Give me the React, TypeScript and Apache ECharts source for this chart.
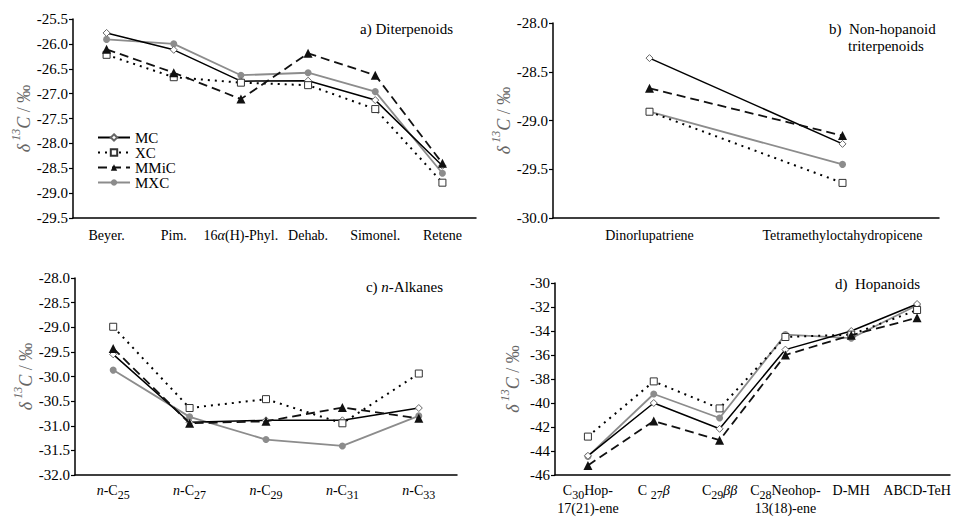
import React, { useEffect, useRef } from 'react';
import * as echarts from 'echarts';

const FONT = 'Liberation Serif';

const catsA = ['Beyer.', 'Pim.', '16α(H)-Phyl.', 'Dehab.', 'Simonel.', 'Retene'];
const catsB = ['Dinorlupatriene', 'Tetramethyloctahydropicene'];
const catsC = ['n-C25', 'n-C27', 'n-C29', 'n-C31', 'n-C33'];
const catsD = ['C30Hop-17(21)-ene', 'C27β', 'C29ββ', 'C28Neohop-13(18)-ene', 'D-MH', 'ABCD-TeH'];

const seriesNames = ['MC', 'XC', 'MMiC', 'MXC'];

const aMC = [-25.78, -26.12, -26.75, -26.74, -27.13, -28.45];
const aXC = [-26.22, -26.67, -26.78, -26.83, -27.31, -28.79];
const aMMiC = [-26.11, -26.58, -27.11, -26.19, -26.63, -28.4];
const aMXC = [-25.91, -26.0, -26.63, -26.58, -26.96, -28.6];

const bMC = [-28.36, -29.24];
const bXC = [-28.91, -29.64];
const bMMiC = [-28.67, -29.155];
const bMXC = [-28.91, -29.45];

const cMC = [-29.55, -30.93, -30.89, -30.89, -30.64];
const cXC = [-28.99, -30.64, -30.46, -30.95, -29.94];
const cMMiC = [-29.43, -30.95, -30.91, -30.63, -30.85];
const cMXC = [-29.87, -30.82, -31.28, -31.41, -30.8];

const dMC = [-44.4, -40.0, -42.15, -35.55, -34.0, -31.75];
const dXC = [-42.8, -38.2, -40.45, -34.5, -34.3, -32.25];
const dMMiC = [-45.2, -41.5, -43.1, -36.0, -34.35, -32.9];
const dMXC = [-44.45, -39.25, -41.25, -34.3, -34.6, -31.85];

const yRanges = [
  { min: -29.5, max: -25.5, interval: 0.5, dec: 1 },
  { min: -30.0, max: -28.0, interval: 0.5, dec: 1 },
  { min: -32.0, max: -28.0, interval: 0.5, dec: 1 },
  { min: -46, max: -30, interval: 2, dec: 0 },
];

const grids = [
  { left: 73, top: 19, width: 403, height: 199 },
  { left: 553, top: 23, width: 386, height: 195 },
  { left: 75, top: 278, width: 382, height: 197 },
  { left: 555, top: 283, width: 395, height: 192 },
];

const styles: any = {
  MC: {
    symbol: 'diamond', symbolSize: 7,
    itemStyle: { color: '#fff', borderColor: '#666', borderWidth: 1 },
    lineStyle: { color: '#000', width: 1.5, type: 'solid' },
  },
  XC: {
    symbol: 'rect', symbolSize: 7,
    itemStyle: { color: '#fff', borderColor: '#333', borderWidth: 1 },
    lineStyle: { color: '#000', width: 2, type: [2, 5] },
  },
  MMiC: {
    symbol: 'triangle', symbolSize: 9,
    itemStyle: { color: '#111' },
    lineStyle: { color: '#111', width: 1.8, type: [9, 5] },
  },
  MXC: {
    symbol: 'circle', symbolSize: 7,
    itemStyle: { color: '#8c8c8c' },
    lineStyle: { color: '#8c8c8c', width: 1.8, type: 'solid' },
  },
};

const panelData = [
  [aMC, aXC, aMMiC, aMXC],
  [bMC, bXC, bMMiC, bMXC],
  [cMC, cXC, cMMiC, cMXC],
  [dMC, dXC, dMMiC, dMXC],
];
const panelCats = [catsA, catsB, catsC, catsD];

const baseText = { fontFamily: FONT, fontSize: 14, color: '#000' };

const subRich = {
  n: { ...baseText, padding: [0, 0, 4, 0], verticalAlign: 'bottom' },
  i: { ...baseText, fontStyle: 'italic', padding: [0, 0, 4, 0], verticalAlign: 'bottom' },
  s: { ...baseText, fontSize: 12, verticalAlign: 'bottom', padding: [0, 0, 0, 0] },
};

function labelA(v: string) {
  if (v.startsWith('16')) return '{n|16}{i|α}{n|(H)-Phyl.}';
  return '{n|' + v + '}';
}
function labelC(v: string) {
  return '{i|n}{n|-C}{s|' + v.slice(3) + '}';
}
function labelD(v: string) {
  switch (v) {
    case 'C30Hop-17(21)-ene':
      return '{n|C}{s|30}{n|Hop-}\n{n|17(21)-ene}';
    case 'C27β':
      return '{n|C }{s|27}{i|β}';
    case 'C29ββ':
      return '{n|C}{s|29}{i|ββ}';
    case 'C28Neohop-13(18)-ene':
      return '{n|C}{s|28}{n|Neohop-}\n{n|13(18)-ene}';
    default:
      return '{n|' + v + '}';
  }
}
const formatters = [labelA, (v: string) => '{n|' + v + '}', labelC, labelD];

export default function App() {
  const ref = useRef<HTMLDivElement>(null);
  useEffect(() => {
    if (!ref.current) return;
    const chart = echarts.init(ref.current, undefined, { renderer: 'svg' });

    const xAxis = panelCats.map((cats, i) => ({
      type: 'category',
      gridIndex: i,
      data: cats,
      boundaryGap: true,
      axisLine: { lineStyle: { color: '#000', width: 1.5 } },
      axisTick: { alignWithLabel: true, length: 5, lineStyle: { color: '#000', width: 1.5 } },
      axisLabel: {
        interval: 0,
        margin: i < 2 ? 10 : 8,
        formatter: formatters[i],
        rich: subRich,
        ...baseText,
        fontSize: i === 1 ? 15 : 14,
      },
      splitLine: { show: false },
    }));

    const yAxis = yRanges.map((r, i) => ({
      type: 'value',
      gridIndex: i,
      min: r.min,
      max: r.max,
      interval: r.interval,
      axisLine: { show: true, lineStyle: { color: '#000', width: 1.5 } },
      axisTick: { show: true, length: 4, lineStyle: { color: '#000', width: 1.2 } },
      axisLabel: {
        ...baseText,
        fontSize: 15,
        margin: 5,
        formatter: (v: number) => '{y|' + v.toFixed(r.dec) + '}',
        rich: { y: { fontFamily: FONT, fontSize: 15, color: '#000' } },
      },
      splitLine: { show: false },
      name: '{d|δ}{s| 13}{c|C}{n| / ‰}',
      nameLocation: 'middle',
      nameGap: i === 3 ? 33 : 40,
      nameTextStyle: {
        rich: {
          d: { fontFamily: FONT, fontSize: 18, fontStyle: 'italic', color: '#666', verticalAlign: 'top', padding: [5, 0, 0, 0] },
          s: { fontFamily: FONT, fontSize: 12, fontStyle: 'italic', color: '#666', verticalAlign: 'top' },
          c: { fontFamily: FONT, fontSize: 18, fontStyle: 'italic', color: '#666', verticalAlign: 'top', padding: [5, 0, 0, 0] },
          n: { fontFamily: FONT, fontSize: 18, color: '#666', verticalAlign: 'top', padding: [5, 0, 0, 0] },
        },
      },
    }));

    const series: any[] = [];
    panelData.forEach((arrs, i) => {
      arrs.forEach((data, k) => {
        const name = seriesNames[k];
        series.push({
          type: 'line',
          name,
          xAxisIndex: i,
          yAxisIndex: i,
          data,
          ...styles[name],
          z: k === 3 ? 1 : 2 + k,
        });
      });
    });

    chart.setOption({
      animation: false,
      grid: grids,
      xAxis,
      yAxis,
      series,
      legend: {
        data: seriesNames,
        orient: 'vertical',
        left: 92,
        top: 125,
        itemWidth: 32,
        itemHeight: 8,
        itemGap: 0,
        formatter: (n: string) => '{l|' + n + '}',
        textStyle: {
          ...baseText,
          fontSize: 15,
          rich: { l: { fontFamily: FONT, fontSize: 15, color: '#000' } },
        },
      },
      graphic: [
        {
          type: 'text', right: 958 - 453, top: 21,
          style: { text: 'a) Diterpenoids', font: '15px ' + FONT, fill: '#000' },
        },
        {
          type: 'text', left: 829, top: 21,
          style: { text: 'b)  Non-hopanoid', font: '15px ' + FONT, fill: '#000' },
        },
        {
          type: 'text', left: 848, top: 38,
          style: { text: 'triterpenoids', font: '15px ' + FONT, fill: '#000' },
        },
        {
          type: 'text', right: 958 - 443, top: 279,
          style: {
            text: '{n|c) }{i|n}{n|-Alkanes}',
            rich: {
              n: { fontFamily: FONT, fontSize: 15, fill: '#000' },
              i: { fontFamily: FONT, fontSize: 15, fontStyle: 'italic', fill: '#000' },
            },
          },
        },
        {
          type: 'text', left: 835, top: 276,
          style: { text: 'd)  Hopanoids', font: '15px ' + FONT, fill: '#000' },
        },
      ],
    });
    return () => chart.dispose();
  }, []);
  return (
    <div
      ref={ref}
      style={{ position: 'fixed', left: 0, top: 0, width: 958, height: 517, background: '#fff' }}
    />
  );
}
